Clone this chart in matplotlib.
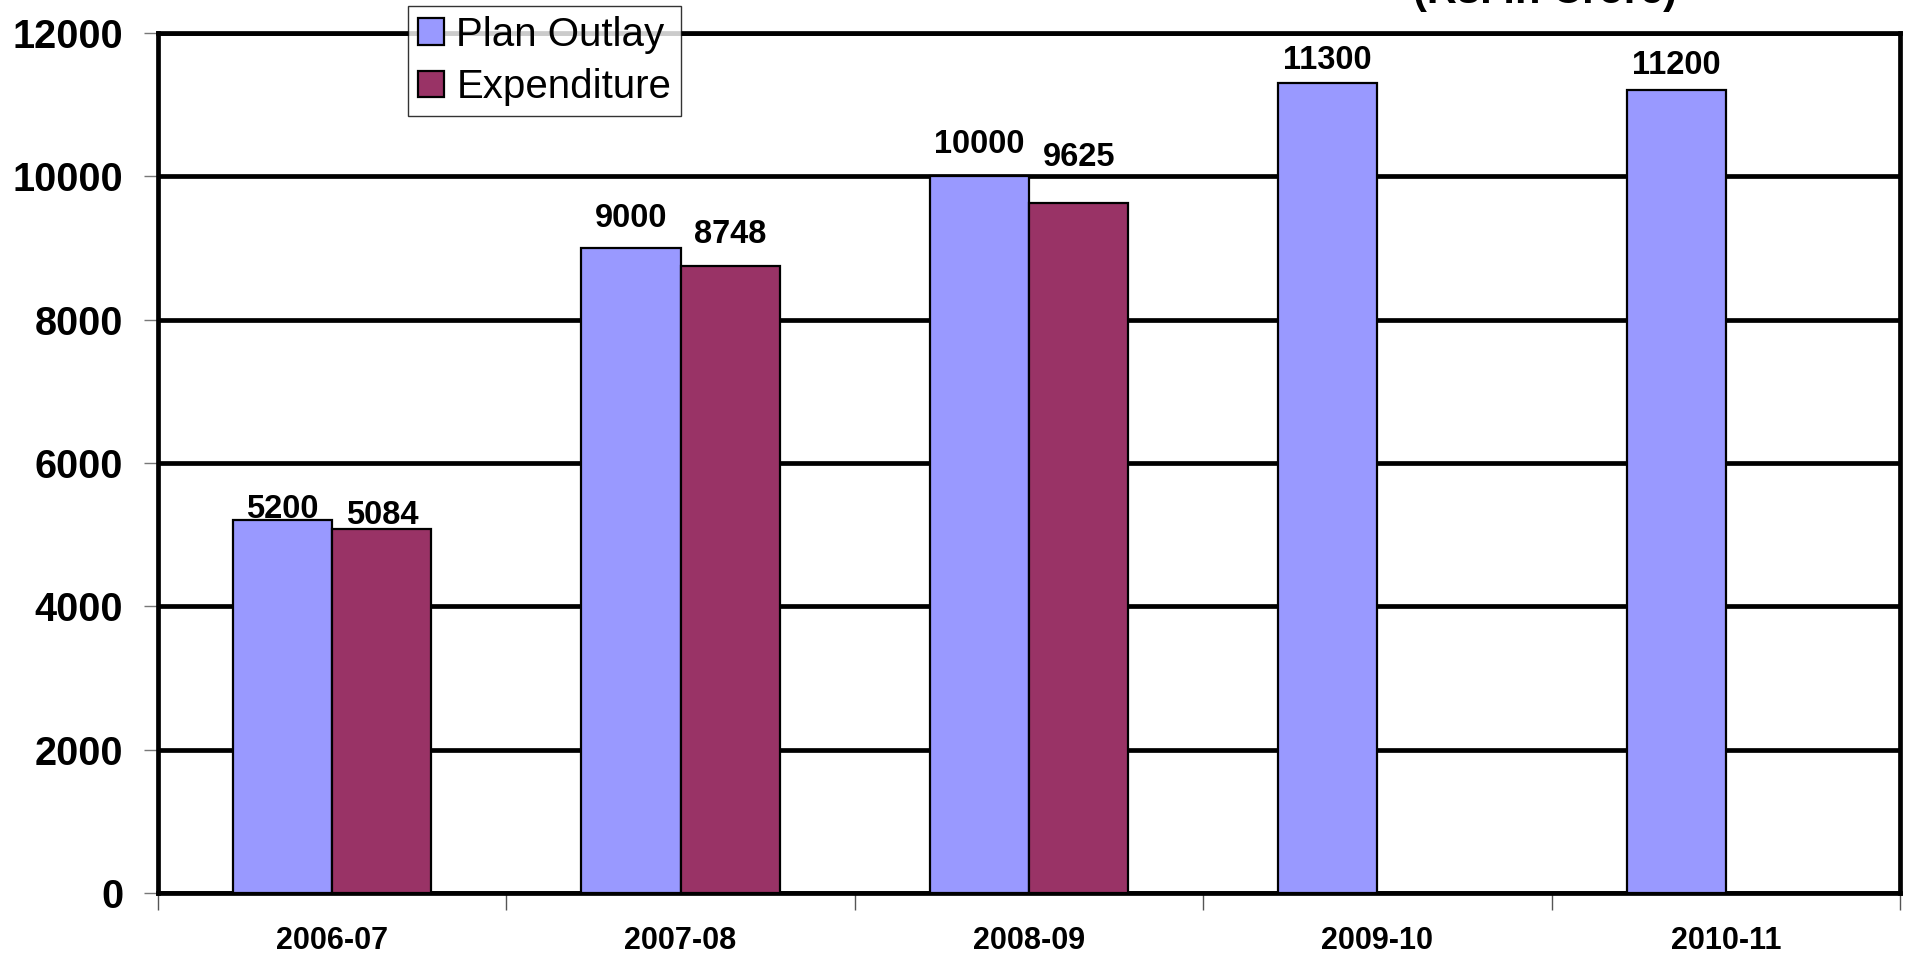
import numpy as np
import matplotlib.pyplot as plt

years = ["2006-07", "2007-08", "2008-09", "2009-10", "2010-11"]
plan_outlay = [5200, 9000, 10000, 11300, 11200]
expenditure = [5084, 8748, 9625]

# gap (points) between bar top and its value label, as placed in the original
plan_gap = [1.5, 15, 16.5, 10, 11.5]
exp_gap = [3.5, 16.5, 26.5]

plt.rcParams['font.family'] = ['Liberation Sans', 'DejaVu Sans']

fig = plt.figure(figsize=(19.1, 9.55), dpi=100)
ax = fig.add_axes([158/1910, 1-893/955, (1900-158)/1910, (893-33)/955])

x = np.arange(len(years))
w = 0.285
b1 = ax.bar(x - w/2, plan_outlay, w, color="#9999FF", edgecolor="black",
            linewidth=1.6, label="Plan Outlay", zorder=3)
xe = x[:len(expenditure)]
b2 = ax.bar(xe + w/2, expenditure, w, color="#993366", edgecolor="black",
            linewidth=1.6, label="Expenditure", zorder=3)

# value labels above the bars
for bars, vals, gaps in ((b1, plan_outlay, plan_gap), (b2, expenditure, exp_gap)):
    for rect, v, g in zip(bars, vals, gaps):
        ax.annotate(str(v), (rect.get_x() + rect.get_width()/2, v),
                    xytext=(0, g), textcoords="offset points",
                    ha="center", va="baseline", fontsize=23.5, fontweight="bold")

ax.set_xlim(-0.5, len(years) - 0.5)
ax.set_ylim(0, 12000)
ax.set_yticks(np.arange(0, 12001, 2000))
ax.yaxis.grid(True, color="black", linewidth=3.4, zorder=1)
ax.set_axisbelow(True)

ax.set_xticks(x)
ax.set_xticklabels(years, fontsize=22, fontweight="bold")
ax.set_xticks(np.arange(-0.5, len(years)), minor=True)
ax.tick_params(axis="x", which="major", length=0, pad=24)
ax.tick_params(axis="x", which="minor", length=12, width=1, color="#555555")
ax.tick_params(axis="y", length=10, width=1, color="#777777", pad=15)
for lbl in ax.get_yticklabels():
    lbl.set_fontsize(28.5)
    lbl.set_fontweight("bold")

for sp in ax.spines.values():
    sp.set_linewidth(3.4)
    sp.set_color("black")

leg = ax.legend(loc="upper left", bbox_to_anchor=(408/1910, 1-6/955),
                bbox_transform=fig.transFigure, fontsize=29, frameon=True,
                fancybox=False, edgecolor="black", handlelength=0.65,
                handleheight=0.65, handletextpad=0.3, borderpad=0.25,
                labelspacing=0.35, borderaxespad=0)
leg.get_frame().set_linewidth(1.0)
leg.set_zorder(5)

fig.text(1545/1910, 1-3/955, "(Rs. in Crore)", ha="center", va="baseline",
         fontsize=30, fontweight="bold")

fig.savefig("out.png", dpi=100)
